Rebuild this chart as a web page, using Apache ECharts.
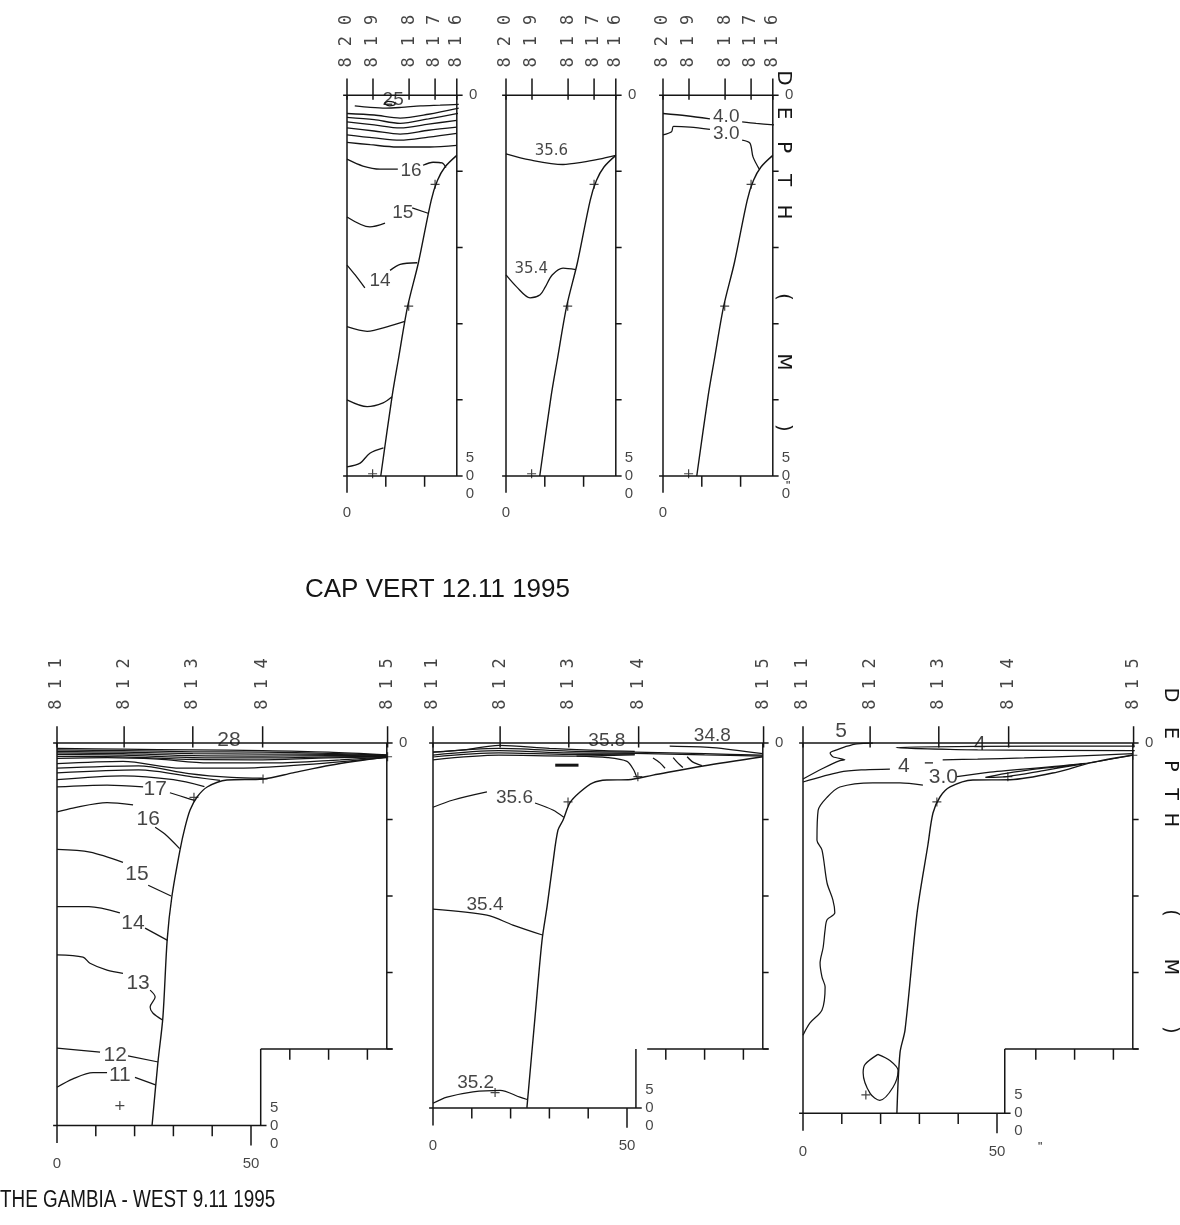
<!DOCTYPE html>
<html>
<head>
<meta charset="utf-8">
<title>Cap Vert / The Gambia sections</title>
<script src="https://cdn.jsdelivr.net/npm/echarts@6/dist/echarts.min.js"></script>
<style>
  html, body { margin: 0; padding: 0; background: #fff; }
  #chart { width: 1180px; height: 1225px; }
</style>
</head>
<body>
<div id="chart"></div>
<script>
const INK = '#151515';
const SANS = '"Liberation Sans", Arial, sans-serif';
const MONO = '"DejaVu Sans Mono", "Liberation Mono", monospace';

// shared ticks (km along section / depth in m)
const depthTicks = [100, 200, 300, 400];
const capDistTicks = [10, 20];
const gamDistTicks = [10, 20, 30, 40, 50];
const gamShelfTicks = [60, 70, 80];
const gamDistLabels = [[0, '0'], [50, '50']];

// ---- CAP VERT 12.11 1995
const capStations = [0, 6.7, 16, 22.7, 28.3];
const capStationNames = ['820', '819', '818', '817', '816'];
const capWidth = 28.3;
const capBottom = 500;
const capSeabed = [[28.3, 79], [25.3, 94], [23.3, 112], [21.7, 138], [18.4, 220], [15.6, 278], [13.2, 348], [11.6, 396], [8.7, 500]];
const capCrosses = [[22.7, 117], [15.9, 277], [6.6, 497]];

const capTempLines = [
  [[2, 14], [6, 16], [10, 17], [14, 16], [19, 14], [24, 13], [28.8, 12]],
  [[0, 24], [7, 26], [13.7, 30], [21, 25], [28.8, 17]],
  [[0, 29], [7, 32], [13.7, 37], [21, 31], [28.6, 24]],
  [[0, 35], [7, 39], [13.7, 43], [21, 38], [28.3, 33]],
  [[0, 43], [7, 47], [13.7, 51], [21, 46], [28.3, 42]],
  [[0, 52], [7, 56], [13.7, 59], [21, 55], [28.3, 50]],
  [[0, 62], [6, 65], [12.9, 68], [21.4, 68], [28.3, 66]],
  [[0, 84], [4.1, 93], [8.5, 97], [13.1, 97]],
  [[19.6, 92], [22.2, 88], [24.5, 89], [25.5, 95]],
  [[0, 160], [5.9, 173], [9.8, 168]],
  [[16.8, 148], [20.9, 155]],
  [[0, 223], [2.1, 236], [4.6, 253]],
  [[11.1, 230], [13.7, 222], [18.1, 220]],
  [[0, 304], [5.2, 310], [11.1, 303], [14.9, 297]],
  [[0, 400], [5.2, 409], [9.3, 404], [11.6, 396]],
  [[0, 488], [3.4, 483], [5.9, 470], [9.4, 463]],
  [[9.6, 11], [10.6, 8], [12, 9], [12.4, 12], [11, 14], [9.6, 11]]
];
const capTempLabels = [['25', 11.9, 6], ['16', 16.5, 99], ['15', 14.4, 155], ['14', 8.5, 243]];

const capSalLines = [
  [[0, 77], [6.2, 85], [14.7, 91], [19.8, 88], [24, 84], [28.3, 79]],
  [[0, 236], [2.8, 252], [6.2, 266], [8.8, 262], [10.1, 252], [11.9, 236], [14.7, 227], [18, 229]]
];
const capSalLabels = [['35.6', 11.7, 74], ['35.4', 6.5, 228]];

const capOxyLines = [
  [[0, 24], [6, 27], [12.1, 31]],
  [[20.4, 35], [24, 37], [28.6, 39]],
  [[0, 52], [2.2, 48], [2.7, 41], [7, 42], [12.1, 45]],
  [[20.4, 59], [22.4, 63], [23.2, 81], [24.8, 97]]
];
const capOxyLabels = [['4.0', 16.3, 28], ['3.0', 16.3, 51]];

// ---- THE GAMBIA - WEST 9.11 1995
const gamStations = [0, 17.3, 35, 53, 85.2];
const gamStationNames = ['811', '812', '813', '814', '815'];
const gamWidth = 85;
const gamShelfDepth = 400;
const gamBottoms = [500, 477, 484];
const gamStepDist = [52.5, 52.3, 52];
const gamStepStart = [52.5, 55.2, 52];

const gamTempSeabed = [[85.3, 18], [70.4, 29], [60.8, 39], [53.1, 47], [43.8, 48.4], [38.7, 57.5], [36.1, 70.6], [34.3, 87.6], [33, 110], [31.7, 140], [29.6, 201], [28.4, 257], [27.3, 358], [26, 418], [24.5, 500]];
const gamSalSeabed = [[85, 18], [69.6, 30], [56.7, 42], [50.3, 48], [44.8, 48.4], [41.2, 52], [37.9, 64], [35.3, 78], [33.5, 101], [32.2, 114], [30.9, 157], [29.4, 214], [28.1, 258], [26.3, 358], [24.2, 477]];
const gamOxySeabed = [[84.8, 16], [74, 26], [65.5, 38], [53.4, 48], [43.8, 48.4], [37.9, 57.5], [35.3, 70.6], [33.5, 91.5], [32.2, 133], [29.4, 222], [26.3, 375], [25, 405], [24.2, 484]];

const gamTempLines = [
  [[0, 7], [17, 8], [35, 9], [53, 10], [70, 12], [85, 15.5]],
  [[0, 9], [17, 10], [35, 11.5], [53, 12], [70, 13.5], [85, 16]],
  [[0, 11], [17, 12], [35, 14], [53, 14.5], [70, 15], [85, 16.5]],
  [[0, 13], [17, 14], [35, 16.5], [53, 17], [70, 16.5], [85, 17]],
  [[0, 15], [17, 16], [35, 19], [53, 19.5], [70, 18], [85, 17.5]],
  [[0, 17.5], [17, 18], [35, 21.5], [53, 22], [70, 19.5], [85, 18]],
  [[0, 20], [13, 19], [26, 21], [39, 26], [56, 26], [73, 22], [85, 18.5]],
  [[0, 27], [17, 24], [32, 33], [47, 33], [62, 29], [85, 19]],
  [[0, 33], [21, 30], [34, 40], [45, 45], [53, 46]],
  [[0, 39], [21, 35], [36, 45], [42, 49]],
  [[0, 48], [17, 43], [30, 48], [38, 57]],
  [[0, 57.5], [12.9, 55], [22.2, 57.5]],
  [[29.1, 65], [33.5, 72], [35.5, 75]],
  [[0, 90], [4.1, 85], [12.9, 78], [19.6, 81]],
  [[25.3, 110], [27.8, 119], [31.6, 138]],
  [[0, 139], [8.5, 142.5], [17, 156]],
  [[23.5, 186], [29.4, 200]],
  [[0, 214], [8.2, 214], [16.2, 222]],
  [[22.7, 242], [28.5, 258]],
  [[0, 277], [6.7, 280], [8.5, 288], [12.9, 297], [17, 301]],
  [[24, 323], [25.3, 332], [24, 345], [24.7, 353], [27.2, 362]],
  [[0, 399], [11.1, 404]],
  [[18.3, 409], [26.1, 417]],
  [[0, 450], [4.1, 439], [9.3, 431], [12.9, 431]],
  [[20.1, 437], [25.4, 447]]
];
const gamTempLabels = [['28', 44.3, -4], ['17', 25.3, 61], ['16', 23.5, 100], ['15', 20.6, 172], ['14', 19.6, 235], ['13', 20.9, 314], ['12', 15, 408], ['11', 16.2, 434]];
const gamTempCrosses = [[16.2, 474], [35.3, 71], [53.1, 47], [85.2, 18]];

const gamSalLines = [
  [[0, 12], [8, 9], [17, 3], [30, 7], [44, 10], [52, 11]],
  [[0, 12], [17, 7], [35, 10.5], [52, 12], [70, 14], [85, 16]],
  [[0, 15.7], [17, 10], [35, 13], [52, 13.5], [70, 15.5], [85, 17]],
  [[0, 18.3], [17, 13], [35, 15], [52, 14.5]],
  [[0, 22], [17, 16], [35, 17], [52, 15.5]],
  [[61, 4], [72, 6], [85, 14]],
  [[37, 17], [45, 19], [50, 24], [51.7, 35], [52.5, 45]],
  [[56.7, 19.6], [58.5, 26], [59.8, 33]],
  [[61.9, 19], [63.1, 26], [64.4, 32]],
  [[65.5, 18], [67, 25], [69.3, 29.5]],
  [[0, 84], [5.2, 74.5], [13.9, 64]],
  [[26.3, 78.4], [30.9, 87.6], [33.7, 97]],
  [[0, 217], [13.9, 225], [20.6, 238], [28.2, 251]],
  [[0, 471], [3.6, 463], [10.3, 456], [17.3, 454], [22.4, 463], [24.3, 466]]
];
const gamSalDash = [[31.5, 29], [37.5, 29]];
const gamSalLabels = [['35.8', 44.8, -3], ['34.8', 72, -9], ['35.6', 21, 71], ['35.4', 13.4, 211], ['35.2', 11, 444]];
const gamSalCrosses = [[16, 457], [34.8, 77], [52.8, 44]];

const gamOxyLines = [
  [[0, 47], [5.2, 33], [9.5, 23], [10.8, 22], [7.7, 18], [7, 13], [8.7, 9], [10.8, 5], [13.9, 1], [18, 0.3]],
  [[85.5, 4], [45, 4.5], [24, 6], [45, 9], [85.5, 10]],
  [[0, 51], [9.5, 38], [16, 35], [22.4, 34]],
  [[31.4, 26], [33.5, 26]],
  [[36, 22], [45, 21], [57, 19.5], [70, 17], [85, 14]],
  [[0, 382], [1.8, 366], [4.9, 349], [5.7, 319], [4.9, 306], [4.4, 288], [5.2, 267], [5.7, 244], [6.2, 231], [8.2, 222], [7.7, 205], [6.2, 183], [4.9, 140], [3.6, 127], [3.9, 88], [6.2, 71], [9.5, 57.5], [18, 52], [25, 52], [30.9, 55]],
  [[39.7, 44], [48.2, 38], [72, 27], [84.8, 16]],
  [[47, 45], [52, 40], [62, 33], [72, 27.5], [62, 36], [53, 43.5], [47, 45]],
  [[19.3, 407], [22.4, 415], [24.5, 428], [23.2, 450], [19.8, 467], [17.3, 458], [15.5, 431], [16, 420], [19.3, 407]]
];
const gamOxyLabels = [['5', 9.8, -15], ['4', 45.6, 1], ['4', 26, 30], ['3.0', 36.2, 45]];
const gamOxyCrosses = [[16.2, 460], [34.5, 77], [52.8, 44], [85, 16]];

// ---- layout (pixels)
const KM_PX = 3.88;
const TOP_ROW = { y0: 95, k: 0.762, x0: [347, 506, 663] };
const BOT_ROW = { y0: 743, k: 0.765, x0: [57, 433, 803] };
const DEPTH_CHARS = ['D', 'E', 'P', 'T', 'H', '(', 'M', ')'];
const TOP_DEPTH_POS = { x: 783, y: [78, 113, 147, 180, 212, 297, 362, 428] };
const BOT_DEPTH_POS = { x: 1170, y: [695, 733, 766, 794, 820, 913, 967, 1030] };

const grids = [], xAxes = [], yAxes = [], series = [];

function addPanel(x0, y0, k, kmMin, kmMax, dMin, dMax) {
  const i = grids.length;
  grids.push({ left: x0 + kmMin * KM_PX, top: y0 + dMin * k, width: (kmMax - kmMin) * KM_PX, height: (dMax - dMin) * k });
  xAxes.push({ type: 'value', gridIndex: i, min: kmMin, max: kmMax, show: false });
  yAxes.push({ type: 'value', gridIndex: i, min: dMin, max: dMax, inverse: true, show: false });
  return i;
}

function addSegments(i, segs, width) {
  series.push({
    type: 'lines', coordinateSystem: 'cartesian2d', xAxisIndex: i, yAxisIndex: i,
    polyline: true, silent: true,
    lineStyle: { color: INK, width: width || 1.3, opacity: 1 },
    data: segs.map(c => ({ coords: c }))
  });
}

function addCurves(i, lines, width) {
  lines.forEach(pts => series.push({
    type: 'line', xAxisIndex: i, yAxisIndex: i, data: pts,
    symbol: 'none', smooth: 0.3, silent: true,
    lineStyle: { color: INK, width: width || 1.3 }
  }));
}

function addTexts(i, items, font) {
  series.push({
    type: 'scatter', xAxisIndex: i, yAxisIndex: i, symbolSize: 1, silent: true,
    itemStyle: { color: 'rgba(0,0,0,0)' },
    data: items.map(t => [t[1], t[2], t[0]]),
    label: Object.assign({ show: true, position: 'inside', color: INK, formatter: p => p.data[2] }, font)
  });
}

function addCrosses(i, pts) {
  series.push({
    type: 'scatter', xAxisIndex: i, yAxisIndex: i, data: pts, silent: true,
    symbol: 'path://M5 0L5 10M0 5L10 5', symbolSize: 9,
    itemStyle: { color: 'rgba(0,0,0,0)', borderColor: INK, borderWidth: 1.2 }
  });
}

// station numbers: one rotated glyph per character, reading upwards
function stationChars(stations, names, baseDepth, step) {
  const out = [];
  stations.forEach((s, j) => names[j].split('').forEach((c, n) => out.push([c, s, baseDepth - n * step])));
  return out;
}

const stationFont = { fontFamily: MONO, fontSize: 17, rotate: 90 };
const numFont = { fontFamily: SANS, fontSize: 15 };

function capPanel(p, lines, labels, labelFont) {
  const i = addPanel(TOP_ROW.x0[p], TOP_ROW.y0, TOP_ROW.k, -5, 35, -125, 560);
  const R = capWidth, B = capBottom;
  const segs = [
    [[-1, 0], [R + 1.5, 0]],
    [[0, 0], [0, B + 22]],
    [[R, 0], [R, B]],
    [[-1, B], [R + 1.5, B]]
  ];
  depthTicks.forEach(d => segs.push([[R, d], [R + 1.5, d]]));
  capDistTicks.forEach(x => segs.push([[x, B], [x, B + 14]]));
  capStations.forEach(s => segs.push([[s, -22], [s, 6]]));
  addSegments(i, segs, 1.5);
  addCurves(i, [capSeabed], 1.4);
  addCurves(i, lines, 1.3);
  addCrosses(i, capCrosses);
  addTexts(i, labels, labelFont);
  addTexts(i, stationChars(capStations, capStationNames, -43, 28), stationFont);
  addTexts(i, [['0', R + 4.2, 0], ['0', 0, B + 48]], numFont);
  addTexts(i, [['5\n0\n0', R + 3.4, B]], Object.assign({ lineHeight: 18 }, numFont));
}

function gamPanel(p, seabed, lines, labels, labelFont, crosses) {
  const i = addPanel(BOT_ROW.x0[p], BOT_ROW.y0, BOT_ROW.k, -8, 95, -130, 560);
  const R = gamWidth, B = gamBottoms[p], S = gamStepDist[p], H = gamShelfDepth;
  const segs = [
    [[-1, 0], [R + 1.5, 0]],
    [[0, 0], [0, B + 23]],
    [[R, 0], [R, H]],
    [[gamStepStart[p], H], [R + 1.5, H]],
    [[S, H], [S, B]],
    [[-1, B], [S + 1.5, B]]
  ];
  depthTicks.forEach(d => segs.push([[R, d], [R + 1.5, d]]));
  gamShelfTicks.forEach(x => segs.push([[x, H], [x, H + 14]]));
  gamDistTicks.forEach((x, j) => segs.push([[x, B], [x, B + (j === gamDistTicks.length - 1 ? 26 : 14)]]));
  gamStations.forEach(s => segs.push([[s, -22], [s, 6]]));
  addSegments(i, segs, 1.5);
  addCurves(i, [seabed], 1.4);
  addCurves(i, lines, 1.25);
  addCrosses(i, crosses);
  addTexts(i, labels, labelFont);
  addTexts(i, stationChars(gamStations, gamStationNames, -50, 27), stationFont);
  addTexts(i, [['0', R + 4.2, 0]].concat(gamDistLabels.map(d => [d[1], d[0], B + 50])), numFont);
  addTexts(i, [['5\n0\n0', S + 3.5, B]], Object.assign({ lineHeight: 18 }, numFont));
  return i;
}

capPanel(0, capTempLines, capTempLabels, { fontFamily: SANS, fontSize: 19 });
capPanel(1, capSalLines, capSalLabels, { fontFamily: '"DejaVu Sans", sans-serif', fontSize: 15 });
capPanel(2, capOxyLines, capOxyLabels, { fontFamily: SANS, fontSize: 19 });

gamPanel(0, gamTempSeabed, gamTempLines, gamTempLabels, { fontFamily: SANS, fontSize: 21 }, gamTempCrosses);
const salIdx = gamPanel(1, gamSalSeabed, gamSalLines, gamSalLabels, { fontFamily: SANS, fontSize: 19 }, gamSalCrosses);
addCurves(salIdx, [gamSalDash], 3);
gamPanel(2, gamOxySeabed, gamOxyLines, gamOxyLabels, { fontFamily: SANS, fontSize: 21 }, gamOxyCrosses);

function depthLetters(pos, size) {
  return DEPTH_CHARS.map((c, n) => ({
    type: 'text', x: pos.x, y: pos.y[n], rotation: -Math.PI / 2, silent: true,
    style: { text: c, font: size + 'px "DejaVu Sans", sans-serif', fill: INK, align: 'center', verticalAlign: 'middle' }
  }));
}

const chart = echarts.init(document.getElementById('chart'));
chart.setOption({
  animation: false,
  backgroundColor: '#ffffff',
  grid: grids,
  xAxis: xAxes,
  yAxis: yAxes,
  series: series,
  graphic: [
    { type: 'text', x: 305, y: 590, silent: true,
      style: { text: 'CAP VERT 12.11 1995', font: '26px "Liberation Sans", Arial, sans-serif', fill: INK, verticalAlign: 'middle' } },
    { type: 'text', x: 0, y: 1201, scaleX: 0.82, silent: true,
      style: { text: 'THE GAMBIA - WEST 9.11 1995', font: '23px "Liberation Sans", Arial, sans-serif', fill: INK, verticalAlign: 'middle' } },
    { type: 'text', x: 786, y: 481, silent: true, style: { text: '"', font: '12px "Liberation Sans"', fill: INK } },
    { type: 'text', x: 1038, y: 1142, silent: true, style: { text: '"', font: '12px "Liberation Sans"', fill: INK } }
  ].concat(depthLetters(TOP_DEPTH_POS, 20), depthLetters(BOT_DEPTH_POS, 19))
});
window.addEventListener('resize', () => chart.resize());
</script>
</body>
</html>
